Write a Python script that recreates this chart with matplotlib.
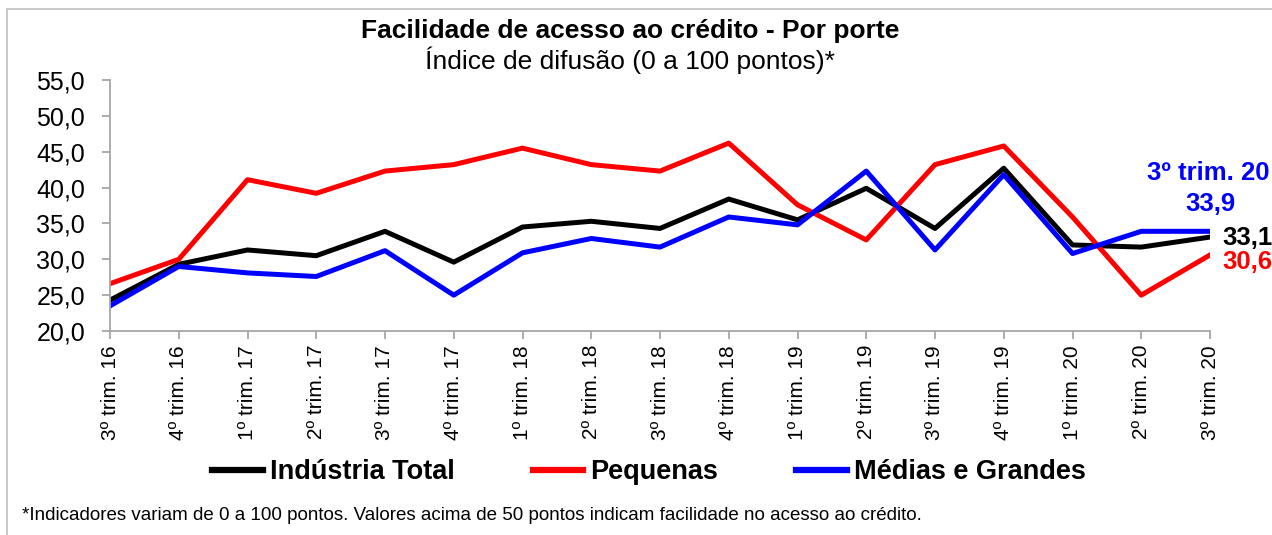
import matplotlib
matplotlib.use("Agg")
import matplotlib.pyplot as plt
from matplotlib.lines import Line2D
from matplotlib.patches import Rectangle

plt.rcParams['font.family'] = ['Liberation Sans', 'DejaVu Sans']

categories = ["3º trim. 16", "4º trim. 16", "1º trim. 17", "2º trim. 17", "3º trim. 17",
              "4º trim. 17", "1º trim. 18", "2º trim. 18", "3º trim. 18", "4º trim. 18",
              "1º trim. 19", "2º trim. 19", "3º trim. 19", "4º trim. 19", "1º trim. 20",
              "2º trim. 20", "3º trim. 20"]
industria_total = [24.3, 29.3, 31.3, 30.5, 33.9, 29.6, 34.5, 35.3, 34.3, 38.4,
                   35.5, 39.9, 34.3, 42.7, 32.0, 31.7, 33.1]
pequenas = [26.6, 30.0, 41.1, 39.2, 42.3, 43.2, 45.5, 43.2, 42.3, 46.2,
            37.6, 32.7, 43.2, 45.8, 35.9, 25.0, 30.6]
medias_grandes = [23.5, 29.0, 28.1, 27.6, 31.2, 25.0, 30.9, 32.9, 31.7, 35.9,
                  34.8, 42.3, 31.3, 41.8, 30.8, 33.9, 33.9]
y_ticks = [20, 25, 30, 35, 40, 45, 50, 55]

W, H = 1272, 535
fig = plt.figure(figsize=(W / 100, H / 100), dpi=100)

# outer border (left/top visible)
fig.add_artist(Rectangle((7 / W, -0.1), 1.2, 1 - 9 / H + 0.1, transform=fig.transFigure,
                         fill=False, edgecolor='#bfbfbf', linewidth=1.2))

ax = fig.add_axes([110 / W, 1 - 331 / H, 1100 / W, 251 / H])
x = list(range(len(categories)))
ax.plot(x, industria_total, color='black', lw=3.6, label='Indústria Total')
ax.plot(x, pequenas, color='#ff0000', lw=3.6, label='Pequenas')
ax.plot(x, medias_grandes, color='#0000ff', lw=3.6, label='Médias e Grandes')

ax.set_xlim(0, len(categories) - 1)
ax.set_ylim(20, 55)
ax.set_yticks(y_ticks)
ax.set_yticklabels([f"{v:.1f}".replace('.', ',') for v in y_ticks], fontsize=18)
ax.set_xticks(x)
ax.set_xticklabels(categories, rotation=90, fontsize=15)
for s in ['top', 'right']:
    ax.spines[s].set_visible(False)
for s in ['left', 'bottom']:
    ax.spines[s].set_color('#a6a6a6')
    ax.spines[s].set_linewidth(1.3)
ax.tick_params(axis='both', color='#a6a6a6', length=6, width=1.3, direction='out')
ax.tick_params(axis='y', pad=12)
ax.tick_params(axis='x', pad=4)

# titles
fig.text(630 / W, 1 - 31 / H, "Facilidade de acesso ao crédito - Por porte", ha='center', va='center',
         fontsize=19, fontweight='bold')
fig.text(630 / W, 1 - 60 / H, "Índice de difusão (0 a 100 pontos)*", ha='center', va='center',
         fontsize=19)

# end annotations
last = len(categories) - 1
fs_ann = 18.5
ax.annotate("3º trim. 20", xy=(last, medias_grandes[-1]), xytext=(1147 / W, 1 - 173 / H),
            textcoords='figure fraction', ha='left', va='center', color='#0000ff',
            fontsize=fs_ann, fontweight='bold', annotation_clip=False)
ax.annotate(f"{medias_grandes[-1]:.1f}".replace('.', ','), xy=(last, medias_grandes[-1]),
            xytext=(1185 / W, 1 - 204 / H), textcoords='figure fraction', ha='left', va='center',
            color='#0000ff', fontsize=fs_ann, fontweight='bold', annotation_clip=False)
ax.annotate(f"{industria_total[-1]:.1f}".replace('.', ','), xy=(last, industria_total[-1]),
            xytext=(1222 / W, 1 - 238 / H), textcoords='figure fraction', ha='left', va='center',
            color='black', fontsize=fs_ann, fontweight='bold', annotation_clip=False)
ax.annotate(f"{pequenas[-1]:.1f}".replace('.', ','), xy=(last, pequenas[-1]),
            xytext=(1222 / W, 1 - 262 / H), textcoords='figure fraction', ha='left', va='center',
            color='#ff0000', fontsize=fs_ann, fontweight='bold', annotation_clip=False)

# legend
handles = [Line2D([], [], color='black', lw=4.5), Line2D([], [], color='#ff0000', lw=4.5),
           Line2D([], [], color='#0000ff', lw=4.5)]
labels = ['Indústria Total', 'Pequenas', 'Médias e Grandes']
fig.legend(handles, labels, loc='center', bbox_to_anchor=(649 / W, 1 - 472 / H), ncol=3,
           frameon=False, prop={'size': 19.5, 'weight': 'bold'}, handlelength=1.85,
           handletextpad=0.26, columnspacing=2.9)

fig.text(22 / W, 1 - 515 / H,
         "*Indicadores variam de 0 a 100 pontos. Valores acima de 50 pontos indicam facilidade no acesso ao crédito.",
         ha='left', va='center', fontsize=13.5)

fig.savefig("out.png", dpi=100)
